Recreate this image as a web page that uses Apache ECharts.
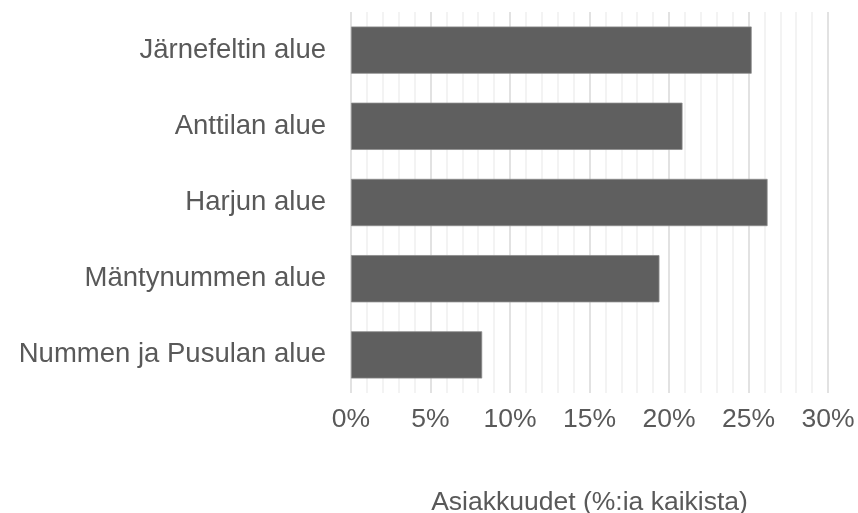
<!DOCTYPE html>
<html>
<head>
<meta charset="utf-8">
<script src="https://cdn.jsdelivr.net/npm/echarts@6/dist/echarts.min.js"></script>
<style>
  html, body { margin: 0; padding: 0; background: #fff; }
  #chart { width: 858px; height: 513px; }
</style>
</head>
<body>
<div id="chart"></div>
<script>
// alueet ylhäältä alas
const categories = [
  'Järnefeltin alue',
  'Anttilan alue',
  'Harjun alue',
  'Mäntynummen alue',
  'Nummen ja Pusulan alue'
];
// asiakkuudet, % kaikista
const shares = [25.2, 20.85, 26.2, 19.4, 8.25];
const axisTitle = 'Asiakkuudet (%:ia kaikista)';

const chart = echarts.init(document.getElementById('chart'));
const textColor = '#595959';

chart.setOption({
  animation: false,
  grid: {
    left: 351, right: 30, top: 12, bottom: 120,
    containLabel: false,
    outerBoundsMode: 'none'
  },
  xAxis: {
    type: 'value',
    min: 0,
    max: 30,
    interval: 5,
    name: axisTitle,
    nameLocation: 'middle',
    nameGap: 96,
    nameTextStyle: { fontFamily: 'Liberation Sans', fontSize: 26.5, color: textColor },
    axisLine: { show: false },
    axisTick: { show: false },
    axisLabel: {
      formatter: '{value}%',
      fontFamily: 'Liberation Sans',
      fontSize: 26.5,
      color: textColor,
      margin: 13
    },
    splitLine: { show: true, lineStyle: { color: '#d9d9d9', width: 1.5 } },
    minorTick: { show: false, splitNumber: 5 },
    minorSplitLine: { show: true, lineStyle: { color: '#f0f0f0', width: 1.5 } }
  },
  yAxis: {
    type: 'category',
    data: categories,
    inverse: true,
    axisLine: { show: false },
    axisTick: { show: false },
    axisLabel: {
      fontFamily: 'Liberation Sans',
      fontSize: 27.5,
      color: textColor,
      margin: 25
    }
  },
  series: [{
    type: 'bar',
    data: shares,
    barCategoryGap: '38%',
    itemStyle: { color: '#5f5f5f', borderColor: '#8c8c8c', borderWidth: 0.8 }
  }]
});
</script>
</body>
</html>
